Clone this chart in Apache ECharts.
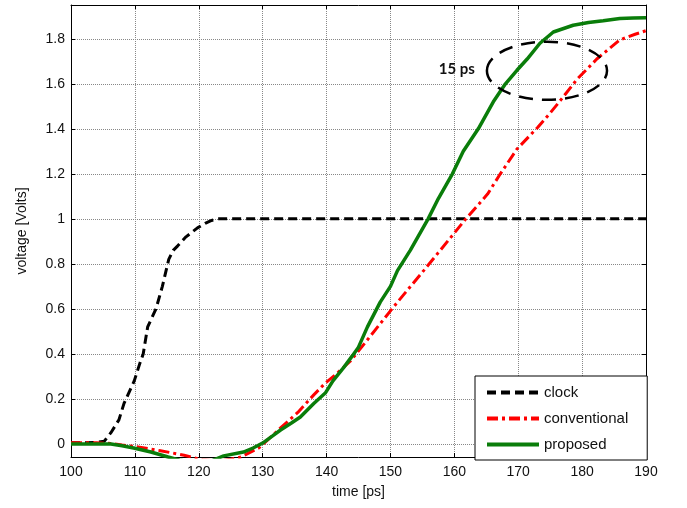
<!DOCTYPE html>
<html>
<head>
<meta charset="utf-8">
<script src="https://cdn.jsdelivr.net/npm/echarts@6/dist/echarts.min.js"></script>
<style>
  html, body { margin: 0; padding: 0; background: #fff; }
  #chart { width: 687px; height: 508px; }
</style>
</head>
<body>
<div id="chart"></div>
<script>
// values
const clockT = [100, 102, 103.6, 105.2, 106.25, 107.5, 108.3, 109.9, 110.8, 111.3, 112, 113.3, 114.3, 115.3, 116, 116.7, 118, 119.8, 121, 122, 123, 190];
const clockV = [0.005, 0.005, 0.006, 0.012, 0.05, 0.107, 0.18, 0.28, 0.36, 0.4, 0.52, 0.6, 0.7, 0.82, 0.86, 0.88, 0.92, 0.96, 0.98, 0.993, 1.0, 1.0];

const convT = [100, 104, 106.25, 108, 110.5, 114, 117.7, 120.5, 123, 125, 126.6, 129.4, 130.5, 132.8, 135.5, 138, 139.8, 141.5, 143.8, 148, 151.1, 155.2, 159.8, 161.8, 165.2, 167.2, 169.8, 173, 175, 177, 179.2, 182.3, 185.9, 188.3, 190];
const convV = [0.005, 0.005, 0.002, -0.005, -0.013, -0.03, -0.05, -0.07, -0.075, -0.068, -0.058, -0.018, 0.01, 0.071, 0.14, 0.218, 0.27, 0.31, 0.37, 0.52, 0.63, 0.77, 0.93, 1.0, 1.11, 1.2, 1.31, 1.405, 1.47, 1.54, 1.62, 1.71, 1.795, 1.82, 1.836];

const propT = [100, 104, 106.25, 108, 109.8, 112.5, 115.2, 117, 120, 122, 123.9, 127, 128.5, 130, 131.5, 132.8, 134.5, 135.9, 138, 139.8, 141, 142.7, 144, 145, 146.4, 148.4, 150, 151.1, 153.1, 155.9, 157.5, 159.7, 161.4, 163.75, 166.1, 168, 169.8, 171.4, 173.4, 175.5, 178.6, 181, 183.3, 185.9, 188, 190];
const propV = [0.0, 0.0, 0.0, -0.008, -0.018, -0.036, -0.058, -0.072, -0.085, -0.075, -0.053, -0.036, -0.018, 0.004, 0.035, 0.062, 0.093, 0.12, 0.18, 0.226, 0.28, 0.34, 0.39, 0.43, 0.52, 0.63, 0.7, 0.77, 0.86, 1.0, 1.09, 1.2, 1.3, 1.4, 1.52, 1.6, 1.66, 1.71, 1.78, 1.83, 1.86, 1.872, 1.88, 1.89, 1.892, 1.893];

const yTicks = [0, 0.2, 0.4, 0.6, 0.8, 1, 1.2, 1.4, 1.6, 1.8];

// annotation: ellipse around the 15 ps gap (data units)
const ellipseCenter = [174.5, 1.658];
const ellipseRadius = [9.4, 0.129];
const noteText = '15 ps';

const zip = (a, b) => a.map((v, i) => [v, b[i]]);

const font = 'Liberation Sans, Arial, sans-serif';
const chart = echarts.init(document.getElementById('chart'));

const baseX = {
  type: 'value', min: 100, max: 190, interval: 10,
  axisLine: { show: true, onZero: false, lineStyle: { color: '#000', width: 1 } },
  axisTick: { show: true, inside: true, length: 4, lineStyle: { color: '#000' } },
  splitLine: { show: false }
};
const baseY = {
  type: 'value', min: -0.058, max: 1.95,
  axisLine: { show: true, onZero: false, lineStyle: { color: '#000', width: 1 } },
  axisTick: { show: true, inside: true, length: 4, customValues: yTicks, lineStyle: { color: '#000' } },
  splitLine: { show: false }
};

chart.setOption({
  animation: false,
  grid: { left: 71, right: 41, top: 5, bottom: 51, containLabel: false },
  xAxis: [
    Object.assign({}, baseX, {
      position: 'bottom',
      name: 'time [ps]', nameLocation: 'middle', nameGap: 28,
      nameTextStyle: { fontFamily: font, fontSize: 14, color: '#111' },
      axisLabel: { fontFamily: font, fontSize: 14, color: '#111', margin: 8 },
      splitLine: { show: true, lineStyle: { color: '#888', type: 'dotted', width: 1 } }
    }),
    Object.assign({}, baseX, { position: 'top', axisLabel: { show: false } })
  ],
  yAxis: [
    Object.assign({}, baseY, {
      position: 'left',
      name: 'voltage [Volts]', nameLocation: 'middle', nameGap: 42,
      nameTextStyle: { fontFamily: font, fontSize: 14, color: '#111' },
      axisLabel: {
        fontFamily: font, fontSize: 14, color: '#111', margin: 6,
        customValues: yTicks,
        formatter: v => String(+v.toFixed(1))
      },
      splitLine: { show: true, lineStyle: { color: '#888', type: 'dotted', width: 1 } }
    }),
    Object.assign({}, baseY, { position: 'right', axisLabel: { show: false } })
  ],
  legend: {
    orient: 'vertical', left: 475, top: 376,
    itemWidth: 52, itemHeight: 14, itemGap: 11,
    padding: [9, 19, 8, 10],
    borderColor: '#000', borderWidth: 1, backgroundColor: '#fff',
    itemStyle: { opacity: 0 },
    lineStyle: { width: 4 },
    textStyle: { fontFamily: font, fontSize: 15, color: '#111' },
    data: ['clock', 'conventional', 'proposed']
  },
  series: [
    {
      name: 'clock', type: 'line', symbol: 'none', z: 3,
      data: zip(clockT, clockV),
      lineStyle: { color: '#000', width: 3, type: [9, 5] },
      itemStyle: { color: '#000' }
    },
    {
      name: 'conventional', type: 'line', symbol: 'none', z: 3,
      data: zip(convT, convV),
      lineStyle: { color: '#ff0000', width: 3, type: [11, 4, 3, 4] },
      itemStyle: { color: '#ff0000' }
    },
    {
      name: 'proposed', type: 'line', symbol: 'none', z: 4,
      data: zip(propT, propV),
      lineStyle: { color: '#0a7d0a', width: 3.5 },
      itemStyle: { color: '#0a7d0a' }
    }
  ]
});

// place the ellipse and note from data coordinates
const c = chart.convertToPixel({ xAxisIndex: 0, yAxisIndex: 0 }, ellipseCenter);
const e = chart.convertToPixel({ xAxisIndex: 0, yAxisIndex: 0 },
  [ellipseCenter[0] + ellipseRadius[0], ellipseCenter[1] + ellipseRadius[1]]);
chart.setOption({
  graphic: [
    {
      type: 'ellipse', z: 10,
      shape: { cx: c[0], cy: c[1], rx: e[0] - c[0], ry: c[1] - e[1] },
      style: { fill: 'none', stroke: '#000', lineWidth: 2.5, lineDash: [14, 9] }
    },
    {
      type: 'text', z: 10,
      x: c[0] - (e[0] - c[0]) - 12, y: c[1] - 2,
      style: {
        text: noteText, fill: '#111', align: 'right', verticalAlign: 'middle',
        font: 'bold 15px Lato, "Open Sans", sans-serif'
      }
    }
  ]
});
</script>
</body>
</html>
